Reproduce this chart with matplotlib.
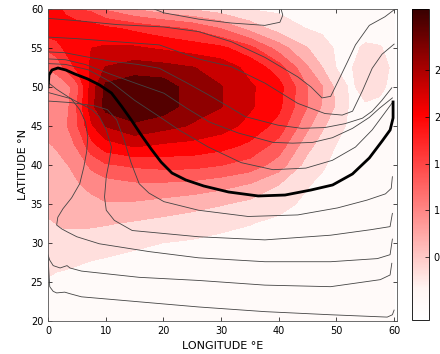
import numpy as np
import matplotlib
matplotlib.use("Agg")
import matplotlib.pyplot as plt
from matplotlib.colors import LinearSegmentedColormap, Normalize
from matplotlib.cm import ScalarMappable

# grid of the shaded field
lon = [0, 1.5, 3, 5, 7.5, 10, 15, 20, 25, 30, 35, 40, 45, 47.5, 50, 52.5, 55, 57.5, 60]
lat = [20, 22.5, 25, 27.5, 30, 32.5, 35, 37.5, 40, 42.5, 45, 47.5, 50, 52.5, 55, 57.5, 60]

# one row per latitude, south to north
field = [
    [0.10, 0.08, 0.05, 0.05, 0.05, 0.04, 0.04, 0.03, 0.03, 0.03, 0.03, 0.03, 0.03, 0.03, 0.03, 0.03, 0.03, 0.03, 0.03],
    [0.12, 0.10, 0.08, 0.06, 0.05, 0.04, 0.04, 0.03, 0.03, 0.03, 0.03, 0.03, 0.03, 0.03, 0.03, 0.03, 0.03, 0.03, 0.03],
    [0.15, 0.12, 0.10, 0.08, 0.06, 0.05, 0.05, 0.04, 0.03, 0.03, 0.03, 0.03, 0.03, 0.03, 0.03, 0.03, 0.03, 0.03, 0.03],
    [0.20, 0.20, 0.20, 0.18, 0.15, 0.12, 0.10, 0.08, 0.06, 0.05, 0.04, 0.03, 0.03, 0.03, 0.03, 0.03, 0.03, 0.03, 0.03],
    [0.30, 0.35, 0.35, 0.35, 0.30, 0.28, 0.20, 0.16, 0.13, 0.10, 0.08, 0.05, 0.03, 0.03, 0.03, 0.03, 0.03, 0.03, 0.03],
    [0.45, 0.50, 0.55, 0.55, 0.55, 0.52, 0.45, 0.38, 0.30, 0.22, 0.17, 0.10, 0.05, 0.03, 0.03, 0.03, 0.03, 0.03, 0.03],
    [0.60, 0.80, 0.80, 0.75, 0.75, 0.80, 0.78, 0.70, 0.62, 0.52, 0.40, 0.25, 0.10, 0.05, 0.03, 0.03, 0.03, 0.03, 0.03],
    [0.65, 0.70, 0.75, 0.80, 0.90, 1.00, 1.10, 1.10, 1.05, 0.95, 0.80, 0.50, 0.18, 0.10, 0.05, 0.03, 0.03, 0.03, 0.03],
    [0.70, 0.75, 0.80, 0.90, 1.25, 1.45, 1.55, 1.60, 1.60, 1.50, 1.35, 1.00, 0.35, 0.20, 0.08, 0.04, 0.03, 0.03, 0.03],
    [0.80, 0.85, 0.95, 1.20, 1.70, 2.00, 2.20, 2.10, 2.05, 1.95, 1.75, 1.35, 0.60, 0.35, 0.15, 0.06, 0.05, 0.04, 0.03],
    [0.95, 1.05, 1.10, 1.45, 2.10, 2.50, 2.75, 2.60, 2.45, 2.30, 2.05, 1.70, 0.90, 0.55, 0.30, 0.08, 0.06, 0.05, 0.04],
    [0.85, 0.90, 1.00, 1.50, 2.35, 2.95, 3.10, 3.00, 2.65, 2.50, 2.20, 1.90, 1.15, 0.80, 0.45, 0.10, 0.12, 0.10, 0.06],
    [0.85, 0.90, 1.00, 1.35, 2.30, 2.90, 3.05, 3.00, 2.65, 2.50, 2.20, 1.95, 1.15, 0.85, 0.40, 0.10, 0.30, 0.22, 0.08],
    [1.20, 1.30, 1.55, 1.90, 2.20, 2.50, 2.65, 2.60, 2.50, 2.35, 2.05, 1.65, 0.85, 0.50, 0.15, 0.14, 0.32, 0.28, 0.10],
    [1.55, 1.65, 1.90, 2.10, 2.15, 2.20, 2.20, 2.10, 2.00, 1.90, 1.60, 1.00, 0.50, 0.30, 0.12, 0.10, 0.20, 0.18, 0.08],
    [2.05, 2.10, 2.10, 2.05, 2.00, 1.90, 1.75, 1.60, 1.45, 1.15, 0.70, 0.35, 0.15, 0.10, 0.06, 0.05, 0.06, 0.05, 0.04],
    [2.00, 2.00, 1.70, 1.50, 1.40, 1.10, 0.80, 0.60, 0.45, 0.30, 0.15, 0.10, 0.05, 0.05, 0.04, 0.04, 0.04, 0.04, 0.04],
]

# thick contour (lon, lat)
thick_lon = [0, 0.17, 0.69, 1.72, 3.09, 4.64, 6.88, 8.94, 11.0, 12.72, 14.44, 16.16, 17.88, 19.6,
             21.49, 23.89, 26.99, 31.29, 36.44, 41.09, 45.56, 49.34, 52.78, 55.7, 57.93, 59.31, 59.82, 59.82]
thick_lat = [50.0, 51.54, 52.18, 52.44, 52.18, 51.67, 51.03, 50.26, 49.23, 47.56, 45.77, 43.85, 42.05, 40.38,
             38.97, 38.08, 37.31, 36.54, 36.03, 36.15, 36.79, 37.44, 38.85, 40.9, 43.08, 44.49, 46.03, 48.08]

# thin contours, each as (lon list, lat list)
thin_lines = [
    # short loop under the top edge
    ([18.4, 20.1, 23.9, 26.1, 31.8, 37.6, 40.2, 40.7, 40.4],
     [60.0, 59.5, 59.0, 58.7, 58.2, 57.9, 58.3, 59.2, 60.0]),
    # northern group, west wall -> dip -> up the east side
    ([0, 5, 12, 20, 26.1, 31.8, 37.6, 43.3, 45.6, 47.5, 49.0, 50.2, 51.9, 53.3, 55.7, 58.4, 60.0],
     [58.8, 58.5, 58.0, 57.7, 57.1, 55.8, 53.8, 51.3, 50.0, 48.6, 48.8, 50.6, 53.2, 55.4, 57.9, 59.0, 59.9]),
    ([0, 5, 12, 19.3, 26.1, 31.8, 37.6, 43.3, 48.0, 51.0, 52.8, 54.5, 56.2, 57.9, 60.0],
     [56.4, 56.2, 55.8, 55.4, 53.6, 52.6, 50.5, 47.9, 46.6, 46.4, 46.9, 49.5, 52.4, 54.2, 55.5]),
    ([0, 2.9, 6.4, 11, 15.5, 19.3, 23.9, 27.8, 30.8, 34.2, 39.9, 44.0, 48.0, 51.5, 54.5, 56.2, 57.9, 59.6],
     [54.5, 54.4, 53.9, 53.3, 52.9, 52.4, 50.6, 49.0, 47.7, 46.2, 45.1, 44.7, 44.8, 45.3, 46.0, 46.9, 48.3, 49.9]),
    ([0, 3, 6.4, 11, 15.5, 20.1, 24, 28, 33, 39, 42.4, 45.9, 49.3, 52.8, 55.7, 57.5, 59.7],
     [53.6, 53.5, 52.9, 51.6, 50.4, 49.2, 47.3, 45.5, 44.1, 42.9, 42.8, 42.9, 43.5, 44.7, 46.1, 47.3, 48.6]),
    ([0, 3, 7, 11, 15, 19.3, 22.7, 27.8, 33.5, 39.0, 44.7, 49.3, 53.3, 56.2, 57.9, 59.0, 59.7],
     [53.0, 52.9, 52.2, 50.6, 48.3, 46.2, 44.5, 42.3, 40.3, 39.4, 39.6, 40.6, 42.3, 44.5, 46.2, 47.3, 48.0]),
    # inside the thick contour
    ([0, 1.5, 4.0, 5.5, 6.5, 6.9, 6.7, 6.2, 5.5, 4.1, 2.6, 1.7, 1.5, 2.4, 3.4, 5.0, 8.9, 17.5, 26.1, 37.6, 49.0, 57.1, 59.3, 59.7],
     [50.6, 49.7, 48.5, 47.1, 45.5, 43.6, 41.7, 39.7, 37.6, 35.8, 34.4, 33.3, 32.3, 31.8, 31.4, 30.8, 29.9, 28.9, 28.1, 27.6, 27.6, 28.0, 28.5, 30.5]),
    ([0, 4.0, 7.6, 8.9, 10.1, 11.0, 10.6, 10.1, 9.8, 10.1, 11.5, 14.6, 26.1, 37.6, 49.0, 55.9, 59.3, 59.7],
     [49.3, 48.5, 47.1, 46.2, 44.5, 42.3, 40.4, 38.5, 35.9, 34.2, 32.9, 31.6, 30.8, 30.4, 31.0, 31.7, 32.1, 33.8]),
    ([0, 4, 8, 10.3, 11.9, 13.2, 14.4, 15.8, 17.5, 20.1, 26.1, 34.7, 43.3, 50.2, 55.3, 58.5, 59.5, 59.7],
     [48.2, 48.0, 47.6, 47.1, 45.8, 43.2, 40.3, 37.6, 36.4, 35.3, 34.2, 33.4, 33.6, 34.5, 35.5, 36.3, 37.0, 38.5]),
    # southern group
    ([0, 0.3, 0.9, 2.1, 3.3, 3.8, 5.8, 15.8, 26.1, 37.6, 49.0, 57.6, 59.3, 59.6],
     [28.5, 27.8, 27.1, 26.8, 27.1, 26.8, 26.4, 25.6, 25.2, 24.6, 24.4, 25.3, 25.9, 27.4]),
    ([0, 0.3, 0.9, 1.5, 2.9, 3.8, 5.8, 26.1, 37.6, 49.0, 58.8, 59.7, 60.0],
     [28.3, 24.4, 23.8, 23.6, 23.7, 23.5, 23.1, 21.8, 21.2, 20.8, 20.5, 20.8, 21.4]),
]

# colour map: white -> red -> very dark red
reds = LinearSegmentedColormap.from_list(
    "wred", [(0.0, (1, 1, 1)), (0.1, (1, 0.96, 0.95)), (0.66, (1, 0, 0)), (1.0, (0.22, 0, 0))])
vmin, vmax = -0.17, 3.15
levels = np.linspace(vmin, vmax, 11)

fig = plt.figure(figsize=(4.4, 3.54), dpi=100)
ax = fig.add_axes([48 / 440, 1 - 321 / 354, 349 / 440, 312 / 354])
cax = fig.add_axes([412 / 440, 1 - 320 / 354, 17 / 440, 311 / 354])

ax.contourf(lon, lat, np.array(field), levels=levels, cmap=reds, vmin=vmin, vmax=vmax,
            extend="both")
for xs, ys in thin_lines:
    ax.plot(xs, ys, color="#444444", lw=0.6)
ax.plot(thick_lon, thick_lat, color="black", lw=2.0)

ax.set_xlim(0, 60.5)
ax.set_ylim(20, 60)
ax.set_xticks([0, 10, 20, 30, 40, 50, 60])
ax.set_yticks([20, 25, 30, 35, 40, 45, 50, 55, 60])
ax.tick_params(direction="in", labelsize=7, length=3, top=True, right=True, width=0.5)
for s in ax.spines.values():
    s.set_linewidth(0.6)
    s.set_color("#555555")
ax.set_xlabel("LONGITUDE \u00b0E", fontsize=8)
ax.set_ylabel("LATITUDE \u00b0N", fontsize=8, labelpad=2)

cb = fig.colorbar(ScalarMappable(norm=Normalize(vmin, vmax), cmap=reds), cax=cax)
cb.set_ticks([0.5, 1, 1.5, 2, 2.5])
cb.set_ticklabels(["0.5", "1", "1.5", "2", "2.5"])
cb.ax.tick_params(labelsize=7, direction="in", length=3, width=0.5)
cb.outline.set_linewidth(0.6)

fig.savefig("out.png", dpi=100)
